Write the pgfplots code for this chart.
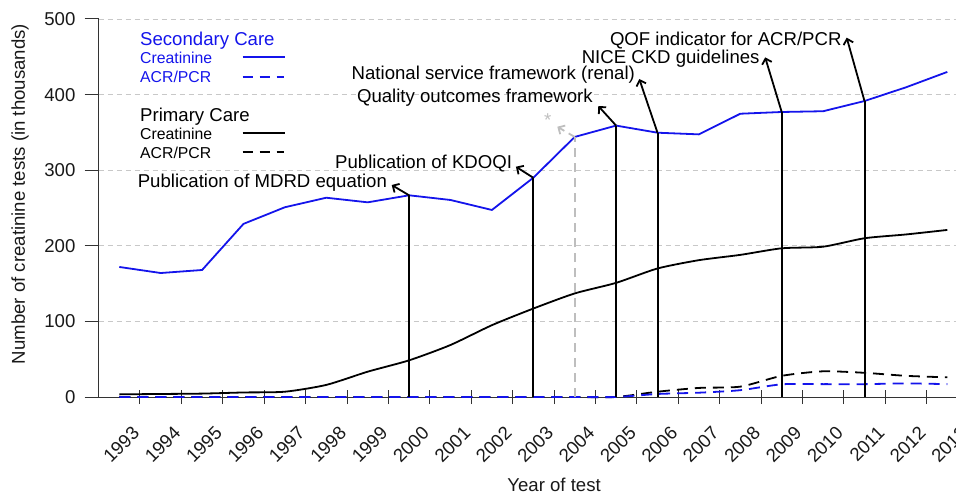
\documentclass[border=0pt]{standalone}
\usepackage{pgfplots}
\pgfplotsset{compat=1.18}
\usepackage{fontspec}
\setmainfont{Liberation Sans}
\usetikzlibrary{arrows.meta}
\definecolor{gridgray}{RGB}{200,200,200}
\definecolor{annogray}{RGB}{190,190,190}
\definecolor{secblue}{RGB}{20,20,235}
\newcommand{\bigf}{\fontsize{18.6}{22}\selectfont}
\newcommand{\smallf}{\fontsize{15.8}{19}\selectfont}
\begin{document}
\begin{tikzpicture}
\begin{axis}[
  scale only axis, width=877.68pt, height=378pt,
  xmin=1992.5, xmax=2013.7, ymin=0, ymax=500,
  clip=false,
  axis lines*=left,
  axis line style={black!80, line width=1pt},
  xtick={1993.5,1994.5,1995.5,1996.5,1997.5,1998.5,1999.5,2000.5,2001.5,2002.5,2003.5,2004.5,2005.5,2006.5,2007.5,2008.5,2009.5,2010.5,2011.5,2012.5,2013.5},
  xticklabels={1993,1994,1995,1996,1997,1998,1999,2000,2001,2002,2003,2004,2005,2006,2007,2008,2009,2010,2011,2012,2013},
  ytick={0,100,200,300,400,500},
  ymajorgrids,
  grid style={gridgray, dash pattern=on 5pt off 4pt, line width=0.8pt},
  major tick length=14pt,
  xtick align=center, ytick align=outside,
  tick style={black!80, line width=1pt},
  tick label style={font=\bigf, text=black!90},
  /pgf/number format/assume math mode=true,
  xticklabel style={xshift=-4pt, yshift=-26pt, rotate=45, anchor=east, inner sep=0pt},
  yticklabel style={anchor=east, inner sep=0pt, xshift=-9pt},
  xlabel={Year of test},
  ylabel={Number of creatinine tests (in thousands)},
  label style={font=\bigf, text=black!90},
  xlabel style={at={(axis description cs:0.519,-0.233)}, anchor=center},
  ylabel style={at={(axis description cs:-0.0896,0.537)}, anchor=center},
]
% Secondary care creatinine
\addplot[secblue, line width=1.8pt] coordinates {
(1993,172) (1994,164) (1995,168) (1996,229) (1997,251) (1998,263.6) (1999,257.5)
(2000,266.8) (2001,260.6) (2002,247.4) (2003,290) (2004,344) (2005,359) (2006,349.6)
(2007,347.4) (2008,374.7) (2009,377) (2010,378) (2011,391.5) (2012,409.6) (2013,430)};
% Primary care creatinine
\addplot[black, line width=1.8pt, smooth, tension=0.4] coordinates {
(1993,3.5) (1994,4) (1995,4.5) (1996,6) (1997,7) (1998,16) (1999,33.5)
(2000,48.5) (2001,68.8) (2002,95) (2003,117) (2004,137) (2005,151) (2006,170)
(2007,181) (2008,188) (2009,196.7) (2010,198.8) (2011,210) (2012,215) (2013,221)};
% Primary care ACR/PCR
\addplot[black, line width=1.8pt, smooth, tension=0.4, dash pattern=on 11pt off 7pt] coordinates {
(1993,0) (1994,0) (1995,0) (1996,0) (1997,0) (1998,0) (1999,0)
(2000,0) (2001,0) (2002,0) (2003,0) (2004,0) (2005,0) (2006,7)
(2007,12) (2008,13.7) (2009,28) (2010,34) (2011,32) (2012,28) (2013,26)};
% Secondary care ACR/PCR
\addplot[secblue, line width=1.8pt, smooth, tension=0.4, dash pattern=on 11pt off 7pt] coordinates {
(1993,0) (1994,0) (1995,0) (1996,0) (1997,0) (1998,0) (1999,0)
(2000,0) (2001,0) (2002,0) (2003,0) (2004,0) (2005,0) (2006,4)
(2007,5.7) (2008,9) (2009,16.8) (2010,17) (2011,17) (2012,18) (2013,17)};

% annotation verticals
\addplot[black, line width=2pt] coordinates {(2000,0) (2000,266.8)};
\addplot[black, line width=2pt] coordinates {(2003,0) (2003,290)};
\addplot[annogray, line width=2pt, dash pattern=on 9pt off 6pt] coordinates {(2004,0) (2004,344)};
\addplot[black, line width=2pt] coordinates {(2005,0) (2005,359)};
\addplot[black, line width=2pt] coordinates {(2006,0) (2006,349.6)};
\addplot[black, line width=2pt] coordinates {(2009,0) (2009,377)};
\addplot[black, line width=2pt] coordinates {(2011,0) (2011,391.5)};

\tikzset{annarrow/.style={line width=1.8pt, -{Straight Barb[length=5pt,width=10pt]}}}
\draw[annarrow] (axis cs:2000,266.8) -- (axis cs:1999.58,280.4);
\draw[annarrow] (axis cs:2003,290) -- (axis cs:2002.58,304.6);
\draw[annarrow, annogray, dash pattern=on 7pt off 5pt] (axis cs:2004,344) -- (axis cs:2003.58,357.5);
\draw[annarrow] (axis cs:2005,359) -- (axis cs:2004.57,384.9);
\draw[annarrow] (axis cs:2006,349.6) -- (axis cs:2005.56,420.6);
\draw[annarrow] (axis cs:2009,377) -- (axis cs:2008.6,449.3);
\draw[annarrow] (axis cs:2011,391.5) -- (axis cs:2010.57,475.3);

\node[anchor=center, text=annogray, font=\bigf] at (axis cs:2003.35,366.4) {*};
\node[anchor=base east, inner sep=0pt, font=\bigf] at (axis cs:1999.47,277.4) {Publication of MDRD equation};
\node[anchor=base east, inner sep=0pt, font=\bigf] at (axis cs:2002.49,302.9) {Publication of KDOQI};
\node[anchor=base east, inner sep=0pt, font=\bigf] at (axis cs:2004.44,389.5) {Quality outcomes framework};
\node[anchor=base east, inner sep=0pt, font=\bigf] at (axis cs:2005.46,420) {National service framework (renal)};
\node[anchor=base east, inner sep=0pt, font=\bigf] at (axis cs:2008.47,441.3) {NICE CKD guidelines};
\node[anchor=base east, inner sep=0pt, font=\bigf] at (axis cs:2010.45,464.3) {QOF indicator for ACR/PCR};

% legend
\node[anchor=base west, inner sep=0pt, text=secblue, font=\bigf] at (axis cs:1993.5,464.3) {Secondary Care};
\node[anchor=base west, inner sep=0pt, text=secblue, font=\smallf] at (axis cs:1993.5,440.5) {Creatinine};
\node[anchor=base west, inner sep=0pt, text=secblue, font=\smallf] at (axis cs:1993.5,415.7) {ACR/PCR};
\draw[secblue, line width=1.8pt] (axis cs:1995.98,449.3) -- (axis cs:1997.0,449.3);
\draw[secblue, line width=1.8pt, dash pattern=on 10pt off 7pt] (axis cs:1995.98,423.7) -- (axis cs:1996.98,423.7);
\node[anchor=base west, inner sep=0pt, font=\bigf] at (axis cs:1993.5,364.2) {Primary Care};
\node[anchor=base west, inner sep=0pt, font=\smallf] at (axis cs:1993.5,340.9) {Creatinine};
\node[anchor=base west, inner sep=0pt, font=\smallf] at (axis cs:1993.5,315.7) {ACR/PCR};
\draw[black, line width=1.8pt] (axis cs:1995.98,349.6) -- (axis cs:1997.0,349.6);
\draw[black, line width=1.8pt, dash pattern=on 10pt off 7pt] (axis cs:1995.98,323.7) -- (axis cs:1996.98,323.7);
\end{axis}
\pgfresetboundingbox
\path[use as bounding box] (-98.6pt,-96pt) rectangle (857.4pt,397pt);
\end{tikzpicture}
\end{document}
